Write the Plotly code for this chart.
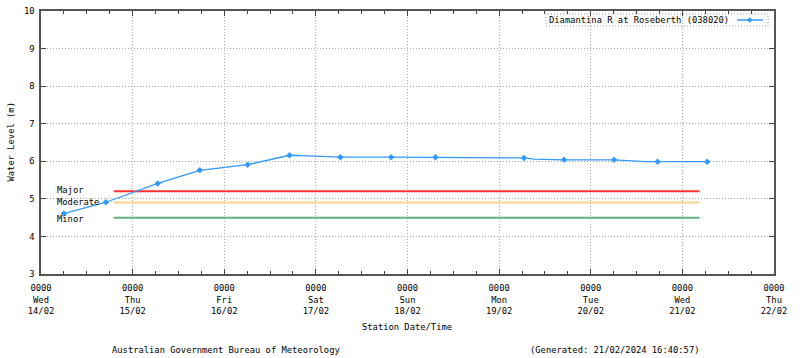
import plotly.graph_objects as go

# ---- data ----
line_times = ["2024-02-14 06:00", "2024-02-14 17:00", "2024-02-15 06:36", "2024-02-15 17:36",
              "2024-02-16 06:06", "2024-02-16 17:06", "2024-02-16 20:30", "2024-02-17 02:48",
              "2024-02-17 06:24", "2024-02-17 19:42", "2024-02-18 07:18", "2024-02-18 18:48",
              "2024-02-19 06:30", "2024-02-19 09:12", "2024-02-19 17:00", "2024-02-20 06:06",
              "2024-02-20 09:00", "2024-02-20 14:24", "2024-02-20 17:30", "2024-02-21 06:30"]
line_levels = [4.61, 4.91, 5.41, 5.76, 5.91, 6.16, 6.15, 6.12, 6.11, 6.11, 6.11, 6.10,
               6.09, 6.06, 6.04, 6.04, 6.02, 5.99, 5.99, 5.99]
marker_times = ["2024-02-14 06:00", "2024-02-14 17:00", "2024-02-15 06:36", "2024-02-15 17:36",
                "2024-02-16 06:06", "2024-02-16 17:06", "2024-02-17 06:24", "2024-02-17 19:42",
                "2024-02-18 07:18", "2024-02-19 06:30", "2024-02-19 17:00", "2024-02-20 06:06",
                "2024-02-20 17:30", "2024-02-21 06:30"]
marker_levels = [4.61, 4.91, 5.41, 5.76, 5.91, 6.16, 6.11, 6.11, 6.11, 6.09, 6.04, 6.04, 5.99, 5.99]

flood_names = ["Major", "Moderate", "Minor"]
flood_levels = [5.2, 4.9, 4.5]
flood_start = "2024-02-14 19:00"
flood_end = "2024-02-21 04:30"
label_time = "2024-02-14 03:40"

tick_dates = ["2024-02-14", "2024-02-15", "2024-02-16", "2024-02-17", "2024-02-18",
              "2024-02-19", "2024-02-20", "2024-02-21", "2024-02-22"]
tick_days = ["Wed", "Thu", "Fri", "Sat", "Sun", "Mon", "Tue", "Wed", "Thu"]
tick_dm = ["14/02", "15/02", "16/02", "17/02", "18/02", "19/02", "20/02", "21/02", "22/02"]
series_name = "Diamantina R at Roseberth (038020)"

FONT = "DejaVu Sans Mono"
BLUE = "#3399ff"
flood_colors = ["#ff3030", "#f9d68c", "#5fb37f"]

L, R, T, B = 41, 774, 11, 274
PW, PH = R - L, B - T


def px(x):
    return (x - L) / PW


def py(y):
    return (B - y) / PH


fig = go.Figure()

for name, lvl, col in zip(flood_names, flood_levels, flood_colors):
    fig.add_trace(go.Scatter(x=[flood_start, flood_end], y=[lvl, lvl], mode="lines",
                             line=dict(color=col, width=2), showlegend=False, hoverinfo="skip"))

fig.add_trace(go.Scatter(x=line_times, y=line_levels, mode="lines",
                         line=dict(color=BLUE, width=1.3), showlegend=False))
fig.add_trace(go.Scatter(x=marker_times, y=marker_levels, mode="markers",
                         marker=dict(color=BLUE, size=5, symbol="diamond"), showlegend=False))

txt = dict(family=FONT, size=8.8, color="#000")
ann = []
for name, lvl in zip(flood_names, flood_levels):
    ann.append(dict(x=label_time, y=lvl, xref="x", yref="y", text=name, showarrow=False,
                    xanchor="left", yanchor="middle", yshift=-1 if name == "Minor" else 1, font=txt))

ann += [
    dict(x=px(407), y=py(327), xref="paper", yref="paper", text="Station Date/Time", showarrow=False,
         xanchor="center", yanchor="middle", font=txt),
    dict(x=px(110), y=py(350), xref="paper", yref="paper", text="Australian Government Bureau of Meteorology",
         showarrow=False, xanchor="left", yanchor="middle", font=txt),
    dict(x=px(528), y=py(350), xref="paper", yref="paper",
         text="(Generated: 21/02/2024 16:40:57)", showarrow=False, xanchor="left", yanchor="middle",
         font=txt),
    dict(x=px(731), y=py(20), xref="paper", yref="paper", text=series_name,
         showarrow=False, xanchor="right", yanchor="middle", font=txt),
    dict(x=px(10), y=0.5, xref="paper", yref="paper", text="Water Level (m)", textangle=-90,
         showarrow=False, xanchor="center", yanchor="middle", font=txt),
]

shapes = [
    dict(type="rect", xref="paper", yref="paper", x0=px(546), x1=px(768),
         y0=py(26), y1=py(14), line=dict(color="#999", width=1, dash="1px,2px"),
         fillcolor="white", layer="below"),
    dict(type="line", xref="paper", yref="paper", x0=px(737), x1=px(763),
         y0=py(20), y1=py(20), line=dict(color=BLUE, width=1.5)),
    dict(type="path", xref="paper", yref="paper",
         path="M {a},{m} L {c},{t} L {b},{m} L {c},{u} Z".format(
             a=px(747), b=px(752.5), c=px(749.75), m=py(20), t=py(17.3), u=py(22.7)),
         fillcolor=BLUE, line=dict(color=BLUE, width=0)),
]

ticktext = [f"0000<br>{d}<br>{dm}" for d, dm in zip(tick_days, tick_dm)]
GRID = dict(showgrid=True, gridcolor="#a8a8a8", griddash="1px,2px", gridwidth=1, zeroline=False)

fig.update_layout(
    width=800, height=358,
    margin=dict(l=L, r=800 - R, t=T, b=358 - B, autoexpand=False),
    paper_bgcolor="white", plot_bgcolor="white",
    font=txt,
    annotations=ann, shapes=shapes, showlegend=False,
    xaxis=dict(type="date", range=[tick_dates[0], tick_dates[-1]], tickmode="array",
               tickvals=tick_dates, ticktext=ticktext, ticks="inside", ticklen=5,
               tickcolor="#444", showline=True, linecolor="#555", linewidth=1.5, mirror="ticks",
               minor=dict(dtick=6 * 3600 * 1000, tick0="2024-02-14", ticks="inside", ticklen=3,
                          tickcolor="#444", showgrid=False),
               tickangle=0, automargin=False, ticklabelstandoff=5, **GRID),
    yaxis=dict(range=[3, 10], tickmode="linear", tick0=3, dtick=1, ticks="inside", ticklen=5,
               tickcolor="#444", showline=True, linecolor="#555", linewidth=1.5, mirror="ticks",
               automargin=False, ticklabelstandoff=3, **GRID),
)

fig.write_html("out.html", config={"displayModeBar": False},
               post_script="document.body.style.margin='0';")
